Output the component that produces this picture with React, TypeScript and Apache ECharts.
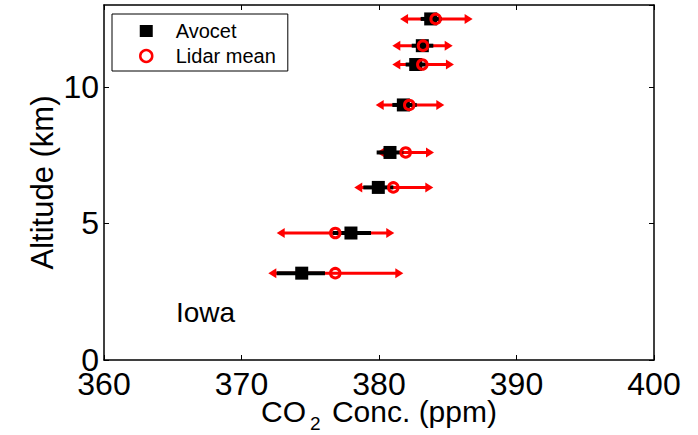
import React, { useEffect, useRef } from "react";
import * as echarts from "echarts";

// Altitude (km) of each paired measurement level
const altitudes = [12.49, 11.51, 10.82, 9.34, 7.6, 6.32, 4.65, 3.18];
// Avocet CO2 (ppm) with error bar extents
const avocet = [383.76, 383.15, 382.67, 381.77, 380.8, 379.95, 377.96, 374.38];
const avocetLo = [383.03, 382.38, 381.94, 380.97, 379.83, 378.86, 376.63, 372.56];
const avocetHi = [384.56, 383.95, 383.47, 382.74, 381.77, 381.04, 379.42, 376.07];
// Lidar mean CO2 (ppm) with error bar extents
const lidar = [384.12, 383.2, 383.15, 382.2, 381.94, 381.04, 376.82, 376.82];
const lidarLo = [381.53, 380.97, 380.97, 379.76, 379.83, 378.2, 372.56, 371.95];
const lidarHi = [386.81, 385.36, 385.45, 384.75, 384.0, 383.95, 381.11, 381.77];

const xMin = 360;
const xMax = 400;
const xStep = 10;
const yMin = 0;
const yMax = 13;
const yStep = 5;

const FONT = "'Liberation Sans', Arial, Helvetica, sans-serif";
const RED = "#ff0000";

export default function App() {
  const ref = useRef<HTMLDivElement>(null);

  useEffect(() => {
    if (!ref.current) return;
    const chart = echarts.init(ref.current, undefined, { renderer: "svg" });

    const lidarBars = lidarLo.map((lo, i) => [lo, lidarHi[i], altitudes[i]]);
    const avocetBars = avocetLo.map((lo, i) => [lo, avocetHi[i], altitudes[i]]);
    const avocetPts = avocet.map((v, i) => [v, altitudes[i]]);
    const lidarPts = lidar.map((v, i) => [v, altitudes[i]]);

    const axisLine = { show: true, onZero: false, lineStyle: { color: "#000", width: 1.5 } };
    const tickIn = { show: true, inside: true, length: 5, lineStyle: { color: "#000", width: 1 } };

    const option: any = {
      animation: false,
      backgroundColor: "#fff",
      textStyle: { fontFamily: FONT },
      grid: { left: 104, right: 44, top: 5, bottom: 75, containLabel: false, outerBoundsMode: "none" },
      legend: {
        data: [
          { name: "Avocet" },
          { name: "Lidar mean", itemStyle: { color: "rgba(0,0,0,0)", borderColor: RED, borderWidth: 2.5 } },
        ],
        orient: "vertical",
        left: 112,
        top: 14,
        padding: [6, 12, 4, 27],
        itemWidth: 13,
        itemHeight: 12,
        itemGap: 3,
        backgroundColor: "#fff",
        borderColor: "#000",
        borderWidth: 1,
        borderRadius: 0,
        textStyle: {
          fontFamily: FONT,
          fontSize: 20,
          lineHeight: 22,
          color: "#000",
          padding: [0, 0, 0, 18],
        },
      },
      xAxis: [
        {
          type: "value",
          min: xMin,
          max: xMax,
          interval: xStep,
          position: "bottom",
          axisLine,
          axisTick: tickIn,
          splitLine: { show: false },
          axisLabel: { color: "#000", fontSize: 32, lineHeight: 24, margin: 12, fontFamily: FONT },
          name: "{n|CO}{s|2}{n| Conc. (ppm)}",
          nameLocation: "middle",
          nameGap: 36,
          nameMoveOverlap: false,
          nameTextStyle: {
            rich: {
              n: { fontSize: 30, fontFamily: FONT, color: "#000", lineHeight: 24, verticalAlign: "top" },
              s: {
                fontSize: 19,
                fontFamily: FONT,
                color: "#000",
                lineHeight: 19,
                verticalAlign: "top",
                padding: [18, 3, 0, 4],
              },
            },
          },
        },
        {
          type: "value",
          min: xMin,
          max: xMax,
          interval: xStep,
          position: "top",
          axisLine,
          axisTick: tickIn,
          axisLabel: { show: false },
          splitLine: { show: false },
        },
      ],
      yAxis: [
        {
          type: "value",
          min: yMin,
          max: yMax,
          interval: yStep,
          position: "left",
          axisLine,
          axisTick: tickIn,
          splitLine: { show: false },
          axisLabel: {
            color: "#000",
            fontSize: 32,
            lineHeight: 24,
            margin: 5,
            fontFamily: FONT,
            showMaxLabel: false,
          },
          name: "Altitude (km)",
          nameLocation: "middle",
          nameGap: 46,
          nameMoveOverlap: false,
          nameTextStyle: { fontSize: 31, fontFamily: FONT, color: "#000" },
        },
        {
          type: "value",
          min: yMin,
          max: yMax,
          interval: yStep,
          position: "right",
          axisLine,
          axisTick: tickIn,
          axisLabel: { show: false },
          splitLine: { show: false },
        },
      ],
      graphic: [
        {
          type: "text",
          left: 176,
          top: 298,
          style: { text: "Iowa", fontSize: 28, fontFamily: FONT, fill: "#000" },
        },
      ],
      series: [
        {
          type: "custom",
          name: "Lidar range",
          z: 2,
          data: lidarBars,
          encode: { x: [0, 1], y: 2 },
          clip: false,
          renderItem: (params: any, api: any) => {
            const a = api.coord([api.value(0), api.value(2)]);
            const b = api.coord([api.value(1), api.value(2)]);
            const h = 8;
            const w = 5;
            return {
              type: "group",
              children: [
                {
                  type: "line",
                  shape: { x1: a[0] + h - 1, y1: a[1], x2: b[0] - h + 1, y2: b[1] },
                  style: { stroke: RED, lineWidth: 3 },
                },
                {
                  type: "polygon",
                  shape: { points: [[a[0], a[1]], [a[0] + h, a[1] - w], [a[0] + h, a[1] + w]] },
                  style: { fill: RED },
                },
                {
                  type: "polygon",
                  shape: { points: [[b[0], b[1]], [b[0] - h, b[1] - w], [b[0] - h, b[1] + w]] },
                  style: { fill: RED },
                },
              ],
            };
          },
        },
        {
          type: "custom",
          name: "Avocet range",
          z: 3,
          data: avocetBars,
          encode: { x: [0, 1], y: 2 },
          clip: false,
          renderItem: (params: any, api: any) => {
            const a = api.coord([api.value(0), api.value(2)]);
            const b = api.coord([api.value(1), api.value(2)]);
            return {
              type: "line",
              shape: { x1: a[0], y1: a[1], x2: b[0], y2: b[1] },
              style: { stroke: "#000", lineWidth: 4 },
            };
          },
        },
        {
          type: "scatter",
          name: "Avocet",
          z: 4,
          symbol: "rect",
          symbolSize: 13,
          data: avocetPts,
          itemStyle: { color: "#000", opacity: 1 },
        },
        {
          type: "scatter",
          name: "Lidar mean",
          z: 5,
          symbol: "circle",
          symbolSize: 9.5,
          data: lidarPts,
          itemStyle: { color: "rgba(0,0,0,0)", borderColor: RED, borderWidth: 3, opacity: 1 },
        },
      ],
    };

    chart.setOption(option);
    return () => chart.dispose();
  }, []);

  return (
    <div
      ref={ref}
      style={{ position: "fixed", left: 0, top: 0, width: 698, height: 435, background: "#fff" }}
    />
  );
}
